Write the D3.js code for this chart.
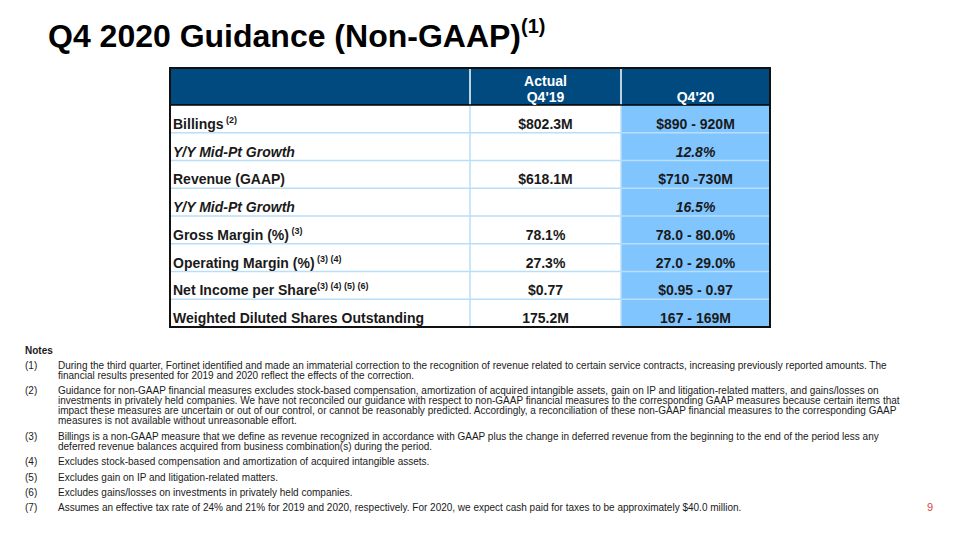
<!DOCTYPE html>
<html><head><meta charset="utf-8">
<script src="https://cdn.jsdelivr.net/npm/d3@7"></script>
<style>
body{margin:0;background:#fff;}
svg{display:block;font-family:"Liberation Sans",Arial,sans-serif;}
</style></head><body>
<svg id="c" width="960" height="540"></svg>
<script>
const title = "Q4 2020 Guidance (Non-GAAP)";
const titleSup = "(1)";
const columns = ["", ["Actual", "Q4'19"], ["Q4'20"]];
const rowLabels = ["Billings", "Y/Y Mid-Pt Growth", "Revenue (GAAP)", "Y/Y Mid-Pt Growth", "Gross Margin (%)", "Operating Margin (%)", "Net Income per Share", "Weighted Diluted Shares Outstanding"];
const rowSups = [" (2)", "", "", "", " (3)", " (3) (4)", "(3) (4) (5) (6)", ""];
const rowItalic = [false, true, false, true, false, false, false, false];
const actualQ419 = ["$802.3M", "", "$618.1M", "", "78.1%", "27.3%", "$0.77", "175.2M"];
const guidanceQ420 = ["$890 - 920M", "12.8%", "$710 -730M", "16.5%", "78.0 - 80.0%", "27.0 - 29.0%", "$0.95 - 0.97", "167 - 169M"];
const noteIds = ["(1)", "(2)", "(3)", "(4)", "(5)", "(6)", "(7)"];
const noteLines = [
 ["During the third quarter, Fortinet identified and made an immaterial correction to the recognition of revenue related to certain service contracts, increasing previously reported amounts. The",
  "financial results presented for 2019 and 2020 reflect the effects of the correction."],
 ["Guidance for non-GAAP financial measures excludes stock-based compensation, amortization of acquired intangible assets, gain on IP and litigation-related matters, and gains/losses on",
  "investments in privately held companies. We have not reconciled our guidance with respect to non-GAAP financial measures to the corresponding GAAP measures because certain items that",
  "impact these measures are uncertain or out of our control, or cannot be reasonably predicted. Accordingly, a reconciliation of these non-GAAP financial measures to the corresponding GAAP",
  "measures is not available without unreasonable effort."],
 ["Billings is a non-GAAP measure that we define as revenue recognized in accordance with GAAP plus the change in deferred revenue from the beginning to the end of the period less any",
  "deferred revenue balances acquired from business combination(s) during the period."],
 ["Excludes stock-based compensation and amortization of acquired intangible assets."],
 ["Excludes gain on IP and litigation-related matters."],
 ["Excludes gains/losses on investments in privately held companies."],
 ["Assumes an effective tax rate of 24% and 21% for 2019 and 2020, respectively. For 2020, we expect cash paid for taxes to be approximately $40.0 million."]
];
const pageNumber = "9";

const svg = d3.select("#c");
const DARK = "#004A7F", HIL = "#80C5FE", GRID = "#B9DEF9", INK = "#1a1a1a";

// Title
const t = svg.append("text").attr("x", 48).attr("y", 47)
  .attr("font-size", 32).attr("font-weight", "bold").attr("fill", "#000");
t.append("tspan").text(title);
t.append("tspan").attr("font-size", 20).attr("dy", -14).text(titleSup);

// Table geometry via scales
const x = d3.scaleOrdinal().domain([0,1,2]).range([170, 470, 621]);
const colEnd = [470, 621, 770];
const headerTop = 68, headerBottom = 105, tableBottom = 327;
const y = d3.scaleBand().domain(d3.range(rowLabels.length)).range([headerBottom, tableBottom]);

const g = svg.append("g");
g.append("rect").attr("x", 170).attr("y", headerTop).attr("width", 600).attr("height", headerBottom-headerTop).attr("fill", DARK);
g.append("rect").attr("x", x(2)).attr("y", headerBottom).attr("width", colEnd[2]-x(2)).attr("height", tableBottom-headerBottom).attr("fill", HIL);
g.selectAll("line.h").data(d3.range(1, rowLabels.length)).join("line")
  .attr("x1", 170).attr("x2", 770).attr("y1", d=>y(d)).attr("y2", d=>y(d))
  .attr("stroke", GRID).attr("stroke-width", 1.5);
[1,2].forEach(i=>{
  g.append("line").attr("x1", x(i)).attr("x2", x(i)).attr("y1", headerTop).attr("y2", headerBottom).attr("stroke", "#fff").attr("stroke-width", 1.5);
  g.append("line").attr("x1", x(i)).attr("x2", x(i)).attr("y1", headerBottom).attr("y2", tableBottom).attr("stroke", GRID).attr("stroke-width", 1.5);
});
g.append("line").attr("x1",170).attr("x2",770).attr("y1",headerBottom).attr("y2",headerBottom).attr("stroke","#000").attr("stroke-width",1.5);
g.append("rect").attr("x", 170).attr("y", headerTop).attr("width", 600).attr("height", tableBottom-headerTop)
  .attr("fill", "none").attr("stroke", "#111").attr("stroke-width", 2);

// header text
columns.forEach((c, i) => {
  if (!c) return;
  const cx = (x(i) + colEnd[i]) / 2;
  c.slice().reverse().forEach((line, k) => {
    g.append("text").attr("x", cx).attr("y", headerBottom - 3.5 - k*16)
      .attr("text-anchor", "middle").attr("font-size", 14).attr("font-weight", "bold").attr("fill", "#fff").text(line);
  });
});

// rows
const base = i => y(i) + y.bandwidth() - 4;
rowLabels.forEach((lab, i) => {
  const tx = g.append("text").attr("x", 173).attr("y", base(i)).attr("font-size", 14).attr("font-weight", "bold")
    .attr("font-style", rowItalic[i] ? "italic" : "normal").attr("fill", INK);
  tx.append("tspan").text(lab);
  if (rowSups[i]) tx.append("tspan").attr("font-size", 9).attr("dy", -6).style("white-space","pre").text(rowSups[i]);
});
[actualQ419, guidanceQ420].forEach((vals, j) => {
  const ci = j + 1, cx = (x(ci) + colEnd[ci]) / 2;
  g.selectAll(null).data(vals).join("text")
    .attr("x", cx).attr("y", (d, i) => base(i)).attr("text-anchor", "middle")
    .attr("font-size", 14).attr("font-weight", "bold").attr("fill", INK)
    .attr("font-style", (d, i) => rowItalic[i] ? "italic" : "normal").text(d => d);
});

// Notes
svg.append("text").attr("x", 25).attr("y", 354).attr("font-size", 10).attr("font-weight", "bold").attr("fill", INK).text("Notes");
const noteTops = [369, 394, 440, 465, 481, 496, 511];
noteLines.forEach((lines, i) => {
  svg.append("text").attr("x", 25).attr("y", noteTops[i]).attr("font-size", 10).attr("fill", INK).text(noteIds[i]);
  lines.forEach((ln, k) => {
    svg.append("text").attr("x", 58).attr("y", noteTops[i] + k*10).attr("font-size", 10).attr("fill", INK).text(ln);
  });
});
svg.append("text").attr("x", 930).attr("y", 511).attr("text-anchor", "middle").attr("font-size", 11).attr("fill", "#e0443a").text(pageNumber);
</script></body></html>
